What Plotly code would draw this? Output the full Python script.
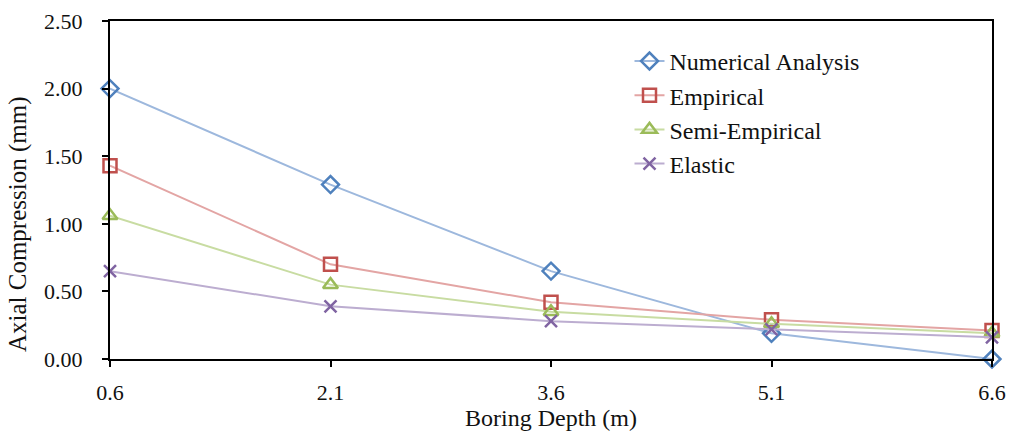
import plotly.graph_objects as go

# Boring depth (m) and axial compression (mm) by method
depth = [0.6, 2.1, 3.6, 5.1, 6.6]
depth_labels = ["0.6", "2.1", "3.6", "5.1", "6.6"]
numerical = [2.00, 1.29, 0.65, 0.19, 0.00]
empirical = [1.43, 0.70, 0.42, 0.29, 0.21]
semi_empirical = [1.06, 0.55, 0.35, 0.26, 0.19]
elastic = [0.65, 0.39, 0.28, 0.22, 0.16]

series = [
    ("Numerical Analysis", numerical, "diamond-open", "#4F81BD", "#9DB8DD", 13),
    ("Empirical", empirical, "square-open", "#C0504D", "#E3A5A4", 13),
    ("Semi-Empirical", semi_empirical, "triangle-up-open", "#9BBB59", "#C8DCA2", 13),
    ("Elastic", elastic, "x-thin-open", "#8064A2", "#BCADD0", 12),
]

font_family = "Liberation Serif, Times New Roman, serif"
text_color = "#111111"

fig = go.Figure()
for i, (name, vals, sym, mcol, lcol, size) in enumerate(series):
    fig.add_trace(go.Scatter(
        x=depth, y=vals, name=name, mode="lines+markers",
        legendgroup=f"g{i}",
        line=dict(color=lcol, width=2),
        marker=dict(symbol=sym, size=size, color=mcol,
                    line=dict(color=mcol, width=2.5)),
        cliponaxis=False,
    ))

frame = dict(showline=True, linecolor="black", linewidth=2, mirror=True,
             showgrid=False, zeroline=False, tickcolor="black", tickwidth=1.5,
             ticklen=6, automargin=False)

fig.update_layout(
    width=1010, height=434,
    margin=dict(l=110, r=18, t=21, b=75),
    paper_bgcolor="white", plot_bgcolor="white",
    font=dict(family=font_family, size=22, color=text_color),
    showlegend=True,
    legend=dict(
        x=0.589, y=0.947, xanchor="left", yanchor="top",
        font=dict(family=font_family, size=24, color=text_color),
        traceorder="grouped", tracegroupgap=0,
        bgcolor="rgba(0,0,0,0)",
    ),
    xaxis=dict(
        range=[0.6, 6.6], tickvals=depth, ticktext=depth_labels,
        ticks="outside", tickfont=dict(size=22, color=text_color),
        ticklabelstandoff=7,
        title=dict(text="Boring Depth (m)", standoff=2,
                   font=dict(family=font_family, size=24, color=text_color)),
        **frame,
    ),
    yaxis=dict(
        range=[0, 2.5], dtick=0.5, tickformat=".2f",
        ticks="outside", tickfont=dict(size=22, color=text_color),
        ticklabelstandoff=15,
        **frame,
    ),
    # inner half of the crossing tick marks
    xaxis2=dict(overlaying="x", matches="x", anchor="y", side="bottom",
                range=[0.6, 6.6], tickvals=depth, showticklabels=False,
                ticks="inside", **frame),
    yaxis2=dict(overlaying="y", matches="y", anchor="x", side="left",
                range=[0, 2.5], dtick=0.5, showticklabels=False,
                ticks="inside", **frame),
)

# vertical axis title, set a little below the plot's mid-height
fig.add_annotation(
    text="Axial Compression (mm)", textangle=-90,
    xref="paper", yref="paper", x=-0.104, y=0.40,
    xanchor="center", yanchor="middle", showarrow=False,
    font=dict(family=font_family, size=25, color=text_color),
)

fig.write_html("out.html")
